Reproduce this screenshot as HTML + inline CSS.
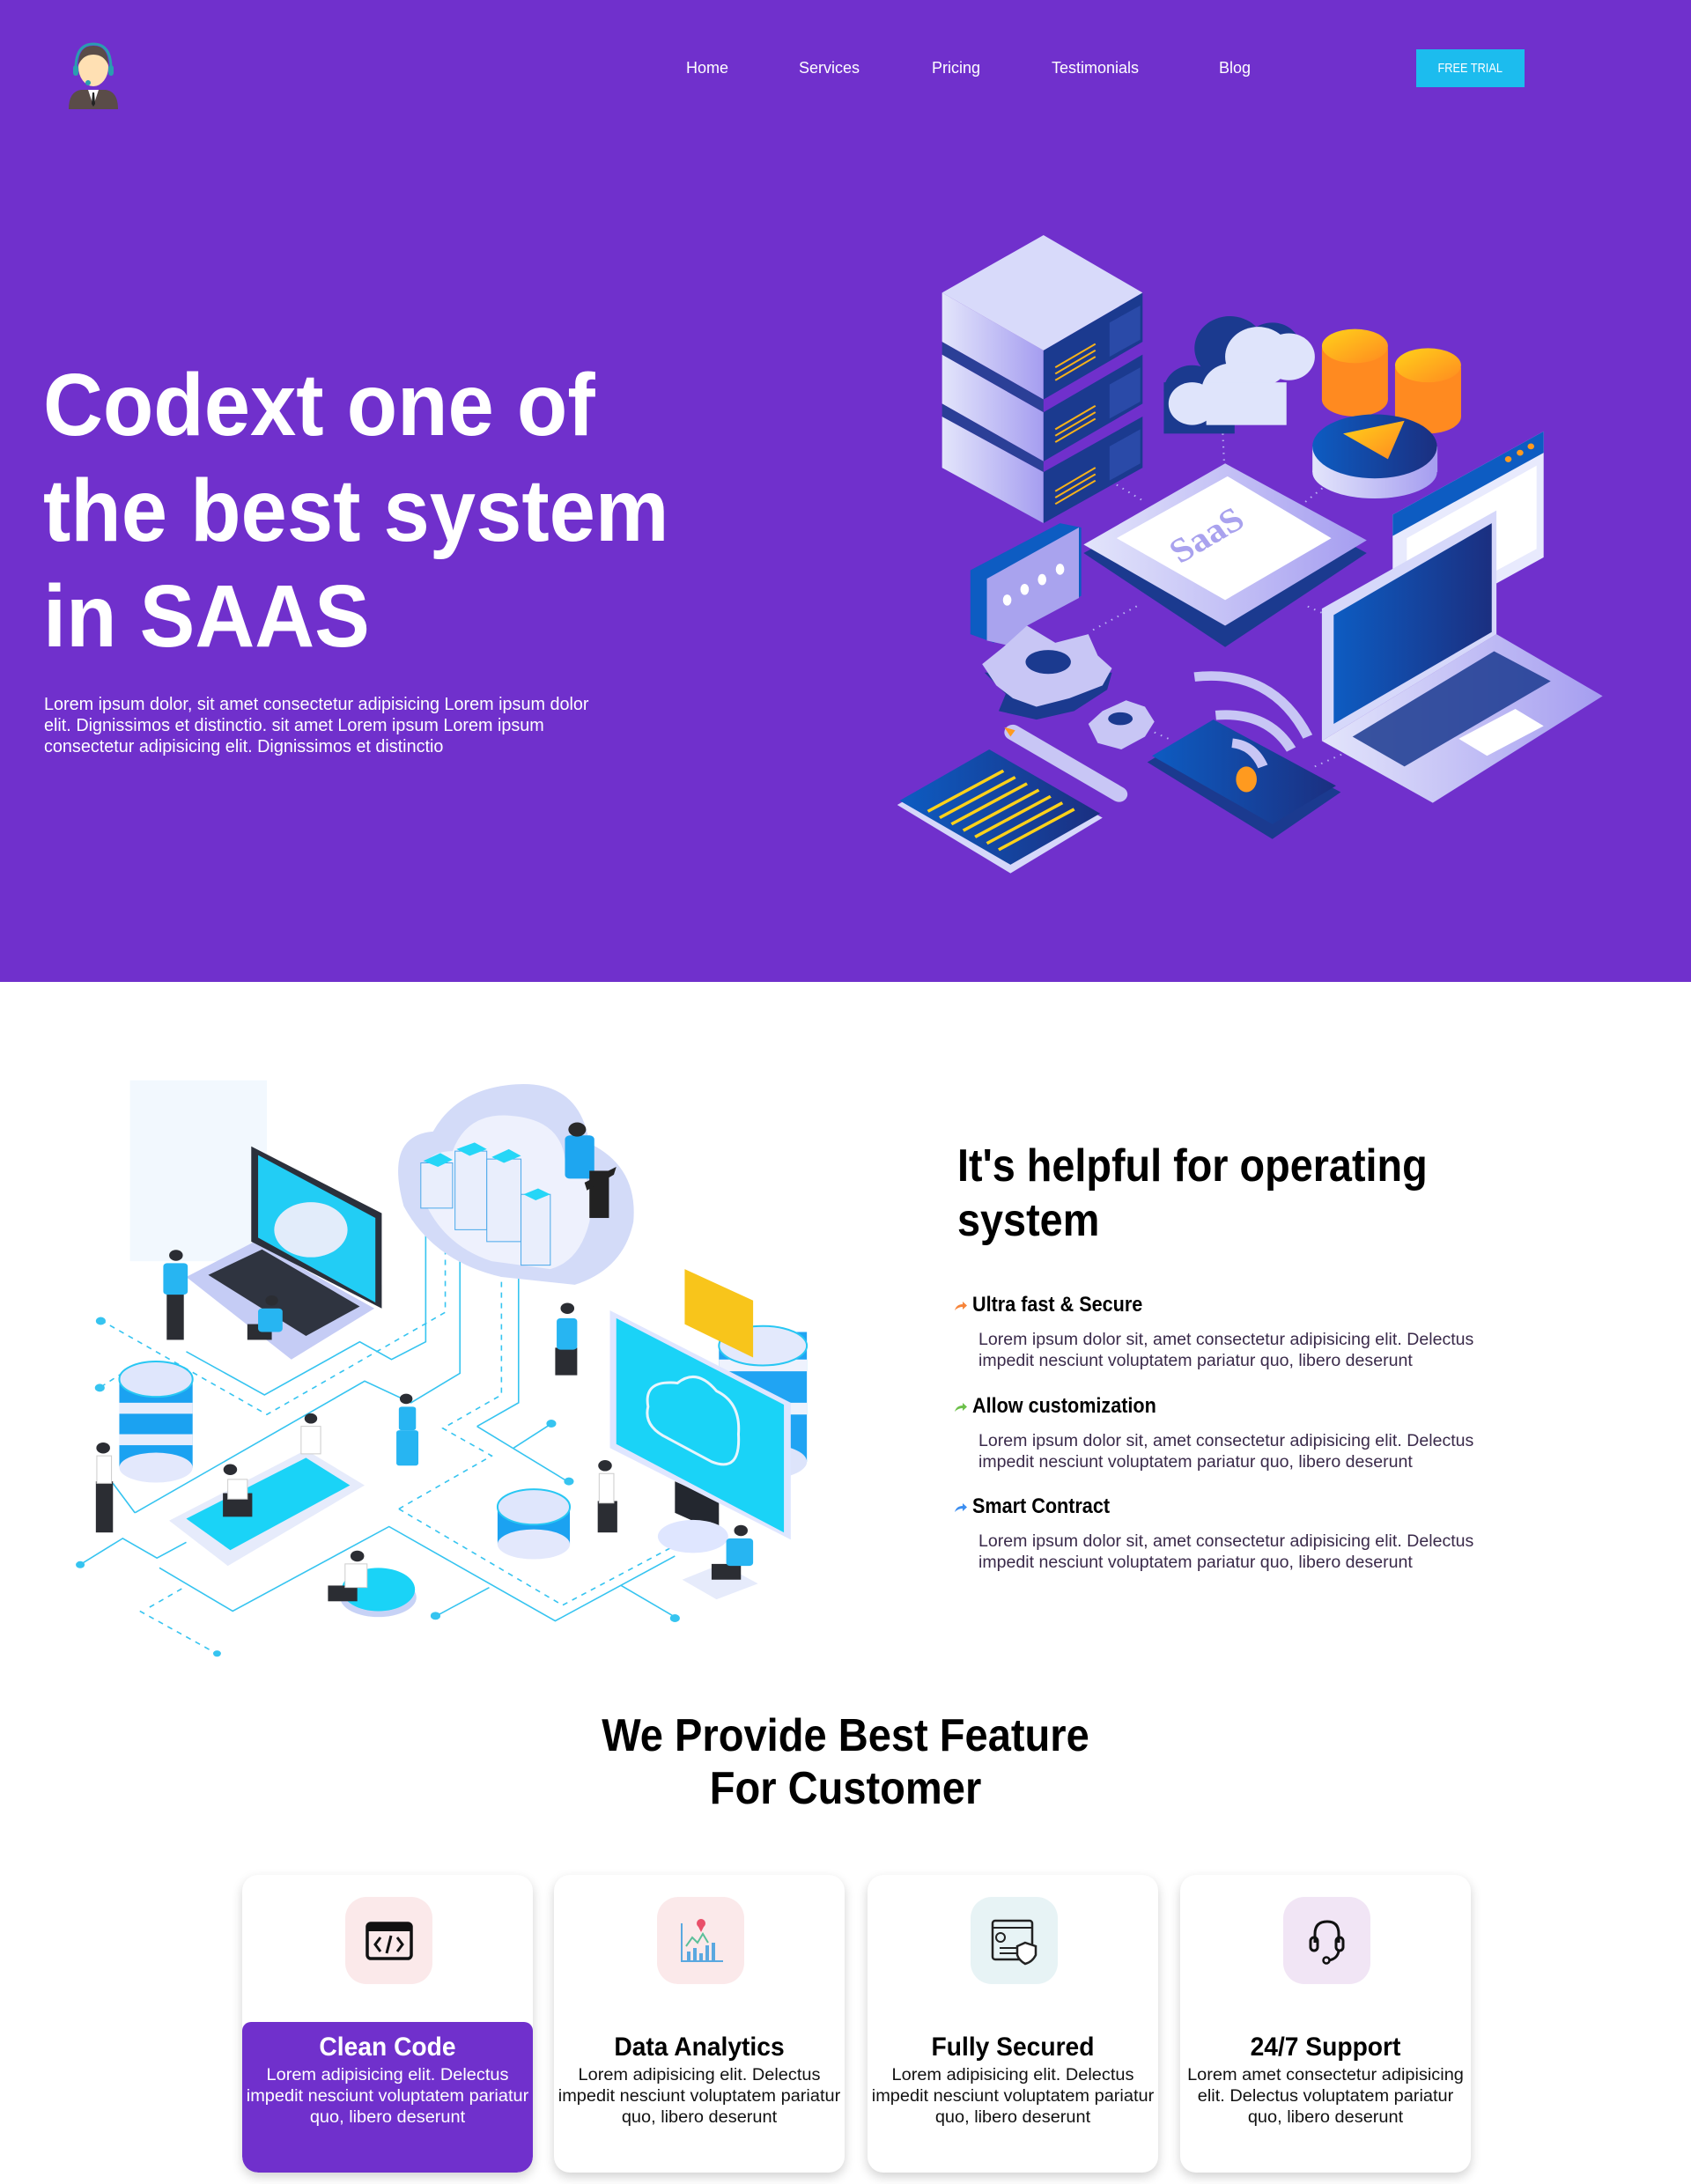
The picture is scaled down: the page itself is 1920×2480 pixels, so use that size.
<!DOCTYPE html>
<html><head><meta charset="utf-8"><style>
*{margin:0;padding:0;box-sizing:border-box}
body{width:1920px;height:2480px;position:relative;background:#fff;font-family:"Liberation Sans",Arial,sans-serif;overflow:hidden}
.a{position:absolute;white-space:nowrap}
.hero{position:absolute;left:0;top:0;width:1920px;height:1115px;background:#7030cc}
.nav{font-size:18px;line-height:18px;color:#fff;top:68px}
.sx{transform-origin:left top}
.card{position:absolute;top:2129px;width:330px;height:338px;border-radius:18px;background:#fff;box-shadow:0 5px 12px rgba(0,0,0,.18);overflow:hidden}
.card .ib{position:absolute;left:117px;top:25px;width:99px;height:99px;border-radius:24px}
.card .t{position:absolute;left:0;width:330px;top:181px;text-align:center;font-size:30px;line-height:30px;font-weight:bold;color:#000;transform:scaleX(.94)}
.card .b{position:absolute;left:-20px;width:370px;top:216px;text-align:center;font-size:19px;line-height:24px;color:#111;transform:scaleX(.95);transform-origin:center top}
</style></head><body>
<div class="hero"></div>

<svg class="a" style="left:72px;top:48px" width="68" height="76" viewBox="0 0 68 76">
<path d="M6 76 Q6 56 20 54 L48 54 Q62 56 62 76Z" fill="#5a4c48"/>
<path d="M28 54 L34 72 L40 54Z" fill="#fff"/><path d="M33 57 L35 57 L36 70 L34 73 L32 70Z" fill="#222"/>
<ellipse cx="34" cy="28" rx="17" ry="22" fill="#ffe0b3"/>
<path d="M17 26 Q17 4 34 4 Q51 4 51 26 Q46 14 34 14 Q22 14 17 26Z" fill="#5a4c48"/>
<path d="M14 30 Q14 2 34 2 Q54 2 54 30" fill="none" stroke="#2a9db0" stroke-width="3"/>
<rect x="11" y="26" width="6" height="12" rx="3" fill="#2a9db0"/><rect x="51" y="26" width="6" height="12" rx="3" fill="#2a9db0"/>
<circle cx="28" cy="46" r="3" fill="#2a9db0"/>
</svg>

<div class="a nav" style="left:779px">Home</div>
<div class="a nav" style="left:907px">Services</div>
<div class="a nav" style="left:1058px">Pricing</div>
<div class="a nav" style="left:1194px">Testimonials</div>
<div class="a nav" style="left:1384px">Blog</div>
<div class="a" style="left:1608px;top:56px;width:123px;height:43px;background:#1cbcee;color:#fff;font-size:15px;line-height:43px;text-align:center"><span style="display:inline-block;transform:scaleX(.85)">FREE TRIAL</span></div>

<div class="a sx" style="left:49px;top:400px;font-size:100px;line-height:120px;font-weight:bold;color:#fff;transform:scaleX(.94)">Codext one of<br>the best system<br>in SAAS</div>
<div class="a sx" style="left:50px;top:788px;font-size:20px;line-height:24px;color:#fff;transform:scaleX(.99)">Lorem ipsum dolor, sit amet consectetur adipisicing Lorem ipsum dolor<br>elit. Dignissimos et distinctio. sit amet Lorem ipsum Lorem ipsum<br>consectetur adipisicing elit. Dignissimos et distinctio</div>

<svg class="a" style="left:1000px;top:250px" width="840" height="760" viewBox="0 0 1568 1568" preserveAspectRatio="none">
<defs><linearGradient id="lv" x1="0" x2="1"><stop offset="0" stop-color="#e3e5fb"/><stop offset="1" stop-color="#a59df0"/></linearGradient>
<linearGradient id="nv" x1="0" x2="1"><stop offset="0" stop-color="#0d5cc2"/><stop offset="1" stop-color="#1b2f80"/></linearGradient>
<linearGradient id="or" x1="0" y1="0" x2="1" y2="1"><stop offset="0" stop-color="#ffd21a"/><stop offset="1" stop-color="#ff8a20"/></linearGradient></defs>
<g fill="none" stroke="#b9b2f2" stroke-width="4" stroke-dasharray="3 12"><path d="M500 620 L560 660"/><path d="M725 500 L730 620"/><path d="M900 660 L945 620"/><path d="M450 960 L550 900"/><path d="M905 905 L935 920"/><path d="M580 1200 L620 1220"/><path d="M920 1280 L980 1250"/></g>
<g>
<polygon points="130,460 345,590 345,710 130,580" fill="url(#lv)"/><polygon points="345,590 555,460 555,580 345,710" fill="#1b3a8f"/>
<polygon points="130,315 345,450 345,565 130,430" fill="url(#lv)"/><polygon points="345,450 555,315 555,430 345,565" fill="#1b3a8f"/>
<polygon points="130,170 345,305 345,420 130,285" fill="url(#lv)"/><polygon points="345,305 555,170 555,285 345,420" fill="#1b3a8f"/>
<polygon points="130,170 345,35 555,170 345,305" fill="#d8dafa"/>
<polygon points="130,285 345,420 345,450 130,315" fill="#2b3f97"/><polygon points="130,430 345,565 345,590 130,460" fill="#2b3f97"/>
<g stroke="#f7b21a" stroke-width="4"><path d="M370 345 L455 290 M370 360 L455 305 M370 375 L455 320"/><path d="M370 490 L455 435 M370 505 L455 450 M370 520 L455 465"/><path d="M370 635 L455 580 M370 650 L455 595 M370 665 L455 610"/></g>
<polygon points="485,240 550,200 550,280 485,320" fill="#2a4aa8"/><polygon points="485,385 550,345 550,425 485,465" fill="#2a4aa8"/><polygon points="485,530 550,490 550,570 485,610" fill="#2a4aa8"/>
</g>
<g fill="#1b3a8f"><circle cx="660" cy="400" r="60"/><circle cx="740" cy="300" r="75"/><circle cx="830" cy="300" r="60"/><rect x="600" y="380" width="150" height="120"/></g>
<g fill="#dfe4fb"><circle cx="745" cy="400" r="65"/><circle cx="800" cy="320" r="70"/><circle cx="865" cy="320" r="55"/><rect x="690" y="380" width="170" height="100"/><circle cx="660" cy="430" r="50"/></g>
<g><rect x="935" y="300" width="140" height="120" fill="#ff8a20"/><ellipse cx="1005" cy="420" rx="70" ry="40" fill="#ff8a20"/><ellipse cx="1005" cy="295" rx="70" ry="40" fill="url(#or)"/>
<rect x="1090" y="345" width="140" height="115" fill="#ff8a20"/><ellipse cx="1160" cy="460" rx="70" ry="40" fill="#ff8a20"/><ellipse cx="1160" cy="340" rx="70" ry="40" fill="url(#or)"/></g>
<rect x="915" y="530" width="265" height="60" fill="url(#lv)"/><ellipse cx="1047" cy="590" rx="132" ry="62" fill="url(#lv)"/>
<ellipse cx="1047" cy="530" rx="132" ry="75" fill="url(#nv)"/><polygon points="980,500 1110,470 1075,560" fill="url(#or)"/>
<polygon points="1085,690 1405,495 1405,790 1085,985" fill="#e8eafd"/><polygon points="1085,690 1405,495 1405,545 1085,740" fill="#0d5cc2"/>
<polygon points="1115,745 1390,575 1390,770 1115,935" fill="#fff"/>
<g fill="#ff9a1f"><circle cx="1330" cy="560" r="7"/><circle cx="1355" cy="545" r="7"/><circle cx="1378" cy="530" r="7"/></g>
<polygon points="430,780 730,600 1030,780 730,1000" fill="#1b3a8f"/>
<polygon points="430,760 730,570 1030,750 730,950" fill="url(#lv)"/>
<polygon points="500,745 735,600 955,745 730,890" fill="#fff"/>
<text x="705" y="760" font-family="Liberation Serif,serif" font-size="80" font-weight="bold" fill="#a9a2ee" transform="rotate(-33 705 760)" text-anchor="middle">SaaS</text>
<polygon points="190,820 380,710 425,720 425,880 240,990 190,970" fill="#0d5cc2"/>
<polygon points="225,840 420,720 420,885 310,950 285,1000 225,985" fill="#a9a3ee"/>
<g fill="#fff"><ellipse cx="268" cy="890" rx="9" ry="13"/><ellipse cx="305" cy="865" rx="9" ry="13"/><ellipse cx="342" cy="842" rx="9" ry="13"/><ellipse cx="380" cy="818" rx="9" ry="13"/></g>
<g><polygon points="220,1060 265,1110 250,1150 330,1170 410,1150 480,1100 490,1060 420,1060 220,1060" fill="#1b3a8f"/>
<polygon points="310,950 370,990 440,970 460,1020 490,1050 470,1090 400,1120 330,1140 280,1120 245,1090 215,1040 260,1000" fill="#c8c6f5"/>
<ellipse cx="355" cy="1035" rx="48" ry="28" fill="#1b3a8f"/>
<polygon points="440,1180 470,1150 520,1125 560,1140 580,1175 560,1210 510,1240 460,1225" fill="#c8c6f5"/><ellipse cx="508" cy="1168" rx="26" ry="15" fill="#1b3a8f"/></g>
<polygon points="565,1270 700,1180 975,1340 830,1450" fill="#1b3a8f"/>
<polygon points="575,1255 705,1170 965,1325 830,1415" fill="url(#nv)"/>
<g fill="none" stroke="#c8c6f5" stroke-width="22"><path d="M745 1225 Q790 1230 810 1280"/><path d="M710 1160 Q820 1150 870 1240"/><path d="M665 1070 Q830 1050 905 1210"/></g>
<ellipse cx="775" cy="1310" rx="22" ry="30" fill="#ff9a1f"/>
<polygon points="935,1220 1305,970 1530,1115 1170,1365" fill="url(#lv)"/>
<polygon points="1000,1210 1300,1010 1420,1080 1110,1280" fill="#1b3a8f" opacity=".85"/>
<polygon points="1225,1215 1345,1145 1405,1185 1285,1255" fill="#fff"/>
<polygon points="935,910 1305,680 1305,970 935,1220" fill="#d6d8fa"/>
<polygon points="960,925 1295,710 1295,965 960,1180" fill="url(#nv)"/>
<polygon points="35,1370 230,1245 470,1400 275,1530" fill="#d6d8fa"/>
<polygon points="40,1360 230,1240 465,1390 275,1510" fill="url(#nv)"/>
<g stroke="#ffd21a" stroke-width="7"><path d="M100 1385 L260 1290 M125 1400 L285 1305 M150 1415 L310 1320 M175 1430 L335 1335 M200 1445 L360 1350 M225 1460 L385 1365 M250 1475 L410 1380"/></g>
<path d="M280 1200 L505 1345" stroke="#c8c6f5" stroke-width="36" stroke-linecap="round"/>
<polygon points="262,1188 285,1195 275,1210" fill="#ff9a1f"/>
</svg>

<svg class="a" style="left:70px;top:1200px" width="870" height="700" viewBox="0 0 1568 1568" preserveAspectRatio="none">
<rect x="140" y="60" width="280" height="460" fill="#f2f8fe"/>
<g fill="none" stroke="#36c4f0" stroke-width="1.6">
<polyline points="255,750 415,860 610,725 675,770 745,725 745,395" vector-effect="non-scaling-stroke"/>
<polyline points="150,1160 620,825 715,880 815,805 815,440" vector-effect="non-scaling-stroke"/>
<polyline points="40,1290 125,1225 195,1275 255,1235" vector-effect="non-scaling-stroke"/>
<polyline points="200,1300 350,1410 670,1195 1010,1435 1255,1270" vector-effect="non-scaling-stroke"/>
<polyline points="850,940 935,880 935,530" vector-effect="non-scaling-stroke"/>
<polyline points="770,1420 875,1350" vector-effect="non-scaling-stroke"/>
<polyline points="925,995 1000,935" vector-effect="non-scaling-stroke"/>
<polyline points="850,940 1035,1080" vector-effect="non-scaling-stroke"/>
<polyline points="1145,1345 1255,1425" vector-effect="non-scaling-stroke"/>
<polyline points="105,1085 150,1160" vector-effect="non-scaling-stroke"/>
</g>
<g fill="none" stroke="#36c4f0" stroke-width="1.6" stroke-dasharray="6 6">
<polyline points="80,670 420,910 785,650 785,440" vector-effect="non-scaling-stroke"/>
<polyline points="80,840 130,800" vector-effect="non-scaling-stroke"/>
<polyline points="160,1410 320,1520" vector-effect="non-scaling-stroke"/>
<polyline points="690,1150 880,1015 780,945 900,860 900,530" vector-effect="non-scaling-stroke"/>
<polyline points="690,1150 1025,1395 1260,1240" vector-effect="non-scaling-stroke"/>
<polyline points="180,1400 250,1350" vector-effect="non-scaling-stroke"/>
</g>
<g fill="#36c4f0"><circle cx="80" cy="672" r="10"/><circle cx="78" cy="842" r="10"/><circle cx="38" cy="1292" r="9"/><circle cx="318" cy="1518" r="8"/><circle cx="765" cy="1422" r="10"/><circle cx="1002" cy="933" r="10"/><circle cx="1038" cy="1080" r="10"/><circle cx="1255" cy="1428" r="10"/></g>
<polygon points="255,560 395,470 640,640 470,770" fill="#c5ccf5"/>
<polygon points="300,555 410,490 610,635 500,710" fill="#2f3440"/>
<polygon points="388,228 655,398 655,640 388,470" fill="#2b303b"/>
<polygon points="402,250 642,410 642,625 402,460" fill="#22cdf5"/>
<ellipse cx="510" cy="440" rx="75" ry="70" fill="#e2ecfa"/>
<path d="M700 380 Q660 200 760 190 Q810 80 930 70 Q1060 60 1080 220 Q1180 280 1170 420 Q1150 540 1050 580 L900 560 Q760 520 700 380Z" fill="#d3dbf8"/>
<path d="M740 360 Q720 240 800 240 Q830 140 920 150 Q1020 160 1030 260 Q1100 300 1080 420 Q1060 520 1000 540 L880 520 Q780 480 740 360Z" fill="#eef1fd"/>
<g fill="#e9eefc" stroke="#4aa8ea" stroke-width="1">
<rect x="735" y="270" width="65" height="115" vector-effect="non-scaling-stroke"/><rect x="805" y="240" width="65" height="200" vector-effect="non-scaling-stroke"/><rect x="870" y="260" width="70" height="210" vector-effect="non-scaling-stroke"/><rect x="940" y="350" width="60" height="180" vector-effect="non-scaling-stroke"/></g>
<g fill="#25d6f7"><polygon points="740,265 775,245 800,262 770,280"/><polygon points="808,235 845,218 870,235 835,252"/><polygon points="880,255 915,235 940,252 905,270"/><polygon points="945,350 975,335 1000,350 970,365"/></g>
<rect x="1030" y="200" width="60" height="110" rx="10" fill="#1ea6f0"/><circle cx="1055" cy="185" r="18" fill="#2a2a2a"/><rect x="1080" y="290" width="40" height="120" fill="#222"/><polygon points="1070,320 1135,280 1130,300 1075,340" fill="#222"/>
<rect x="1345" y="700" width="180" height="330" fill="#20a4f3"/><ellipse cx="1435" cy="1030" rx="90" ry="45" fill="#dde4fb"/>
<rect x="1345" y="770" width="180" height="30" fill="#eef2fd"/><rect x="1345" y="880" width="180" height="30" fill="#eef2fd"/>
<ellipse cx="1435" cy="735" rx="90" ry="50" fill="#e3e9fc" stroke="#28c7f3" stroke-width="2" vector-effect="non-scaling-stroke"/>
<polygon points="1275,540 1415,620 1415,765 1275,680" fill="#f8c51b"/>
<polygon points="1255,1080 1345,1130 1345,1210 1255,1160" fill="#23272f"/>
<ellipse cx="1292" cy="1220" rx="72" ry="42" fill="#dfe6ff"/>
<polygon points="1122,645 1492,880 1492,1228 1122,995" fill="#dfe6ff"/>
<polygon points="1135,665 1478,885 1478,1210 1135,985" fill="#1ad3f7"/>
<path d="M1200 890 Q1190 820 1260 830 Q1300 790 1340 850 Q1390 880 1385 960 Q1390 1060 1330 1030 L1240 970 Q1190 940 1200 890Z" fill="none" stroke="#e8f5fd" stroke-width="3" vector-effect="non-scaling-stroke"/>
<rect x="118" y="815" width="150" height="230" fill="#1ba2f1"/><ellipse cx="193" cy="1045" rx="75" ry="38" fill="#e3e8fc"/>
<rect x="118" y="880" width="150" height="28" fill="#e8edfc"/><rect x="118" y="960" width="150" height="28" fill="#e8edfc"/>
<ellipse cx="193" cy="820" rx="75" ry="45" fill="#dfe6fc" stroke="#28c7f3" stroke-width="2" vector-effect="non-scaling-stroke"/>
<rect x="892" y="1140" width="148" height="100" fill="#1ba2f1"/><ellipse cx="966" cy="1240" rx="74" ry="38" fill="#e3e8fc"/>
<ellipse cx="966" cy="1145" rx="74" ry="45" fill="#dfe6fc" stroke="#28c7f3" stroke-width="2" vector-effect="non-scaling-stroke"/>
<polygon points="220,1180 500,1000 620,1090 340,1295" fill="#e6ebfb"/>
<polygon points="255,1175 500,1020 590,1090 345,1255" fill="#1ad3f7"/>
<ellipse cx="648" cy="1375" rx="78" ry="50" fill="#c7d2f6"/><ellipse cx="648" cy="1355" rx="75" ry="55" fill="#1ad3f7"/>
<polygon points="1270,1330 1350,1290 1425,1340 1340,1380" fill="#e6ebfb"/>
<g fill="#2b2d33">
<rect x="215" y="600" width="35" height="120"/><rect x="70" y="1080" width="35" height="130"/><rect x="1010" y="740" width="45" height="70"/><rect x="1097" y="1130" width="40" height="80"/><rect x="380" y="680" width="50" height="40"/><rect x="330" y="1110" width="60" height="60"/><rect x="1330" y="1290" width="60" height="40"/><rect x="545" y="1345" width="60" height="40"/>
<circle cx="234" cy="505" r="14"/><circle cx="85" cy="995" r="14"/><circle cx="1035" cy="640" r="14"/><circle cx="1112" cy="1040" r="14"/><circle cx="430" cy="620" r="13"/><circle cx="345" cy="1050" r="14"/><circle cx="510" cy="920" r="13"/><circle cx="705" cy="870" r="13"/><circle cx="1390" cy="1205" r="14"/><circle cx="605" cy="1270" r="14"/></g>
<g fill="#27b5f2"><rect x="208" y="525" width="50" height="80" rx="8"/><rect x="1013" y="665" width="42" height="80" rx="8"/><rect x="402" y="640" width="50" height="60" rx="8"/><rect x="690" y="890" width="35" height="60" rx="6"/><rect x="685" y="950" width="45" height="90" rx="6"/><rect x="1360" y="1225" width="55" height="70" rx="8"/></g>
<g fill="#fff" stroke="#ccc" stroke-width="1"><rect x="72" y="1015" width="30" height="70" vector-effect="non-scaling-stroke"/><rect x="1100" y="1060" width="30" height="75" vector-effect="non-scaling-stroke"/><rect x="490" y="940" width="40" height="70" vector-effect="non-scaling-stroke"/><rect x="340" y="1075" width="40" height="50" vector-effect="non-scaling-stroke"/><rect x="580" y="1290" width="45" height="60" vector-effect="non-scaling-stroke"/></g>
</svg>

<div class="a sx" style="left:1087px;top:1293px;font-size:52px;line-height:62px;font-weight:bold;color:#000;transform:scaleX(.9)">It's helpful for operating<br>system</div>

<svg class="a" style="left:1083px;top:1477px" width="16" height="12" viewBox="0 0 16 12"><path d="M1 11 Q3 4 10 4 L10 1 L15 5.5 L10 10 L10 7 Q5 7 1 11Z" fill="#f6843a"/></svg>
<svg class="a" style="left:1083px;top:1592px" width="16" height="12" viewBox="0 0 16 12"><path d="M1 11 Q3 4 10 4 L10 1 L15 5.5 L10 10 L10 7 Q5 7 1 11Z" fill="#6cc04a"/></svg>
<svg class="a" style="left:1083px;top:1706px" width="16" height="12" viewBox="0 0 16 12"><path d="M1 11 Q3 4 10 4 L10 1 L15 5.5 L10 10 L10 7 Q5 7 1 11Z" fill="#3c8ef0"/></svg>

<div class="a sx" style="left:1104px;top:1470px;font-size:24px;line-height:24px;color:#000;font-weight:bold;transform:scaleX(.9)">Ultra fast &amp; Secure</div>
<div class="a sx" style="left:1104px;top:1585px;font-size:24px;line-height:24px;color:#000;font-weight:bold;transform:scaleX(.9)">Allow customization</div>
<div class="a sx" style="left:1104px;top:1699px;font-size:24px;line-height:24px;color:#000;font-weight:bold;transform:scaleX(.9)">Smart Contract</div>
<div class="a sx" style="left:1111px;top:1510px;font-size:19px;line-height:24px;color:#3a2a4a;transform:scaleX(1.03)">Lorem ipsum dolor sit, amet consectetur adipisicing elit. Delectus<br>impedit nesciunt voluptatem pariatur quo, libero deserunt</div>
<div class="a sx" style="left:1111px;top:1625px;font-size:19px;line-height:24px;color:#3a2a4a;transform:scaleX(1.03)">Lorem ipsum dolor sit, amet consectetur adipisicing elit. Delectus<br>impedit nesciunt voluptatem pariatur quo, libero deserunt</div>
<div class="a sx" style="left:1111px;top:1739px;font-size:19px;line-height:24px;color:#3a2a4a;transform:scaleX(1.03)">Lorem ipsum dolor sit, amet consectetur adipisicing elit. Delectus<br>impedit nesciunt voluptatem pariatur quo, libero deserunt</div>

<div class="a" style="left:560px;width:800px;top:1941px;text-align:center;font-size:52px;line-height:60px;font-weight:bold;color:#000;transform:scaleX(.905)">We Provide Best Feature<br>For Customer</div>

<div class="card" style="left:275px">
<div style="position:absolute;left:0;top:167px;width:330px;height:171px;background:#7030cc;border-radius:10px 10px 18px 18px"></div>
<div class="ib" style="background:#fbe9ea"><svg width="99" height="99" viewBox="0 0 99 99"><rect x="25" y="30" width="50" height="40" rx="4" fill="none" stroke="#111" stroke-width="3.5"/><rect x="25" y="30" width="50" height="9" fill="#111"/><path d="M40 46 L34 54 L40 62 M59 46 L65 54 L59 62 M52 44 L47 64" fill="none" stroke="#111" stroke-width="3"/></svg></div>
<div class="t" style="color:#fff">Clean Code</div>
<div class="b" style="color:#fff;transform:scaleX(1.05)">Lorem adipisicing elit. Delectus<br>impedit nesciunt voluptatem pariatur<br>quo, libero deserunt</div>
</div>
<div class="card" style="left:629px">
<div class="ib" style="background:#fbe9ea"><svg width="99" height="99" viewBox="0 0 99 99"><path d="M28 30 L28 73 L75 73" fill="none" stroke="#5aa8e0" stroke-width="2"/><g fill="#5aa8e0"><rect x="34" y="62" width="4" height="10"/><rect x="41" y="58" width="4" height="14"/><rect x="48" y="64" width="4" height="8"/><rect x="55" y="55" width="4" height="17"/><rect x="62" y="52" width="4" height="20"/></g><path d="M33 56 L40 46 L46 52 L52 42 L58 52" fill="none" stroke="#5bbf9a" stroke-width="2"/><circle cx="50" cy="30" r="5" fill="#e9506a"/><path d="M46 32 L50 40 L54 32Z" fill="#e9506a"/></svg></div>
<div class="t">Data Analytics</div>
<div class="b" style="transform:scaleX(1.05)">Lorem adipisicing elit. Delectus<br>impedit nesciunt voluptatem pariatur<br>quo, libero deserunt</div>
</div>
<div class="card" style="left:985px">
<div class="ib" style="background:#e7f3f5"><svg width="99" height="99" viewBox="0 0 99 99"><rect x="25" y="27" width="45" height="44" rx="3" fill="none" stroke="#222" stroke-width="2.5"/><path d="M25 35 L70 35 M33 58 L55 58 M33 64 L55 64" stroke="#222" stroke-width="2"/><circle cx="34" cy="46" r="5" fill="none" stroke="#222" stroke-width="2"/><path d="M62 52 L74 56 L74 66 Q70 74 62 76 Q55 72 53 66 L53 56Z" fill="#fff" stroke="#222" stroke-width="2.5"/></svg></div>
<div class="t">Fully Secured</div>
<div class="b" style="transform:scaleX(1.05)">Lorem adipisicing elit. Delectus<br>impedit nesciunt voluptatem pariatur<br>quo, libero deserunt</div>
</div>
<div class="card" style="left:1340px">
<div class="ib" style="background:#f1e5f5"><svg width="99" height="99" viewBox="0 0 99 99"><path d="M36 52 L36 42 Q36 28 50 28 Q63 28 63 42 L63 52" fill="none" stroke="#111" stroke-width="3"/><rect x="31" y="46" width="8" height="15" rx="4" fill="none" stroke="#111" stroke-width="3"/><rect x="60" y="46" width="8" height="15" rx="4" fill="none" stroke="#111" stroke-width="3"/><path d="M63 61 Q62 70 52 72" fill="none" stroke="#111" stroke-width="3"/><circle cx="49" cy="72" r="3.5" fill="none" stroke="#111" stroke-width="2.5"/></svg></div>
<div class="t">24/7 Support</div>
<div class="b" style="transform:scaleX(1.05)">Lorem amet consectetur adipisicing<br>elit. Delectus voluptatem pariatur<br>quo, libero deserunt</div>
</div>
</body></html>
